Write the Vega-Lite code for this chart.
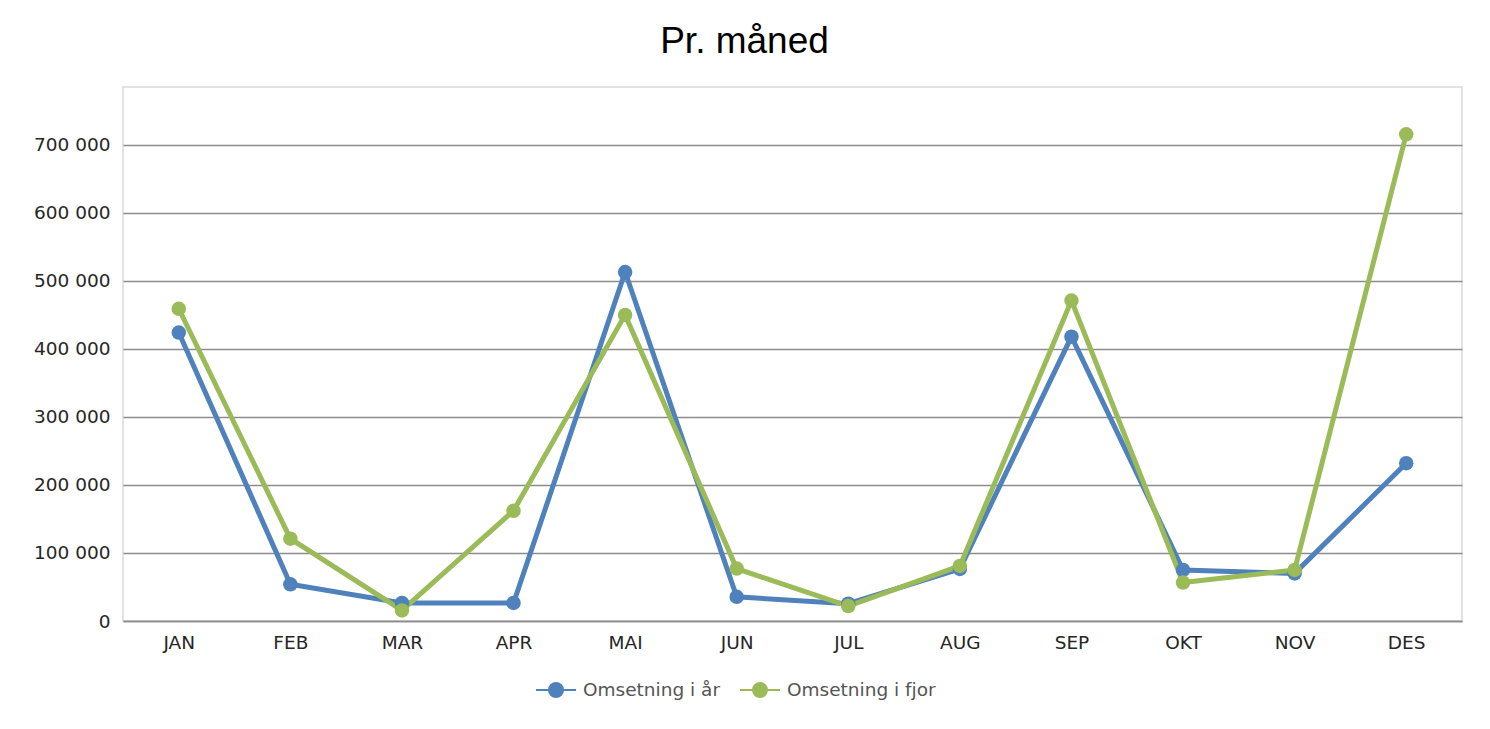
{
  "$schema": "https://vega.github.io/schema/vega-lite/v6.json",
  "width": 1339,
  "height": 534,
  "autosize": {"type": "none"},
  "padding": {"left": 123, "top": 87, "right": 28, "bottom": 108},
  "background": "white",
  "title": {
    "text": "Pr. måned",
    "font": "Liberation Sans",
    "fontSize": 37,
    "fontWeight": "normal",
    "color": "#000000",
    "anchor": "middle",
    "dx": -48,
    "offset": 26
  },
  "config": {
    "view": {"stroke": "#d9d9d9", "strokeWidth": 1.5},
    "axis": {
      "labelFont": "DejaVu Sans",
      "labelFontSize": 18.5,
      "labelColor": "#262626",
      "ticks": false,
      "title": null
    },
    "legend": {
      "labelFont": "DejaVu Sans",
      "labelFontSize": 18.5,
      "labelColor": "#555555"
    }
  },
  "data": {
    "values": [
      {"month": "JAN", "series": "Omsetning i år", "value": 424000},
      {"month": "FEB", "series": "Omsetning i år", "value": 54000},
      {"month": "MAR", "series": "Omsetning i år", "value": 26500},
      {"month": "APR", "series": "Omsetning i år", "value": 26500},
      {"month": "MAI", "series": "Omsetning i år", "value": 513000},
      {"month": "JUN", "series": "Omsetning i år", "value": 35500},
      {"month": "JUL", "series": "Omsetning i år", "value": 25500},
      {"month": "AUG", "series": "Omsetning i år", "value": 76500},
      {"month": "SEP", "series": "Omsetning i år", "value": 418000},
      {"month": "OKT", "series": "Omsetning i år", "value": 75000},
      {"month": "NOV", "series": "Omsetning i år", "value": 70000},
      {"month": "DES", "series": "Omsetning i år", "value": 232000},
      {"month": "JAN", "series": "Omsetning i fjor", "value": 459000},
      {"month": "FEB", "series": "Omsetning i fjor", "value": 121000},
      {"month": "MAR", "series": "Omsetning i fjor", "value": 15500},
      {"month": "APR", "series": "Omsetning i fjor", "value": 162000},
      {"month": "MAI", "series": "Omsetning i fjor", "value": 450000},
      {"month": "JUN", "series": "Omsetning i fjor", "value": 77000},
      {"month": "JUL", "series": "Omsetning i fjor", "value": 22000},
      {"month": "AUG", "series": "Omsetning i fjor", "value": 81000},
      {"month": "SEP", "series": "Omsetning i fjor", "value": 471000},
      {"month": "OKT", "series": "Omsetning i fjor", "value": 56500},
      {"month": "NOV", "series": "Omsetning i fjor", "value": 75000},
      {"month": "DES", "series": "Omsetning i fjor", "value": 715500}
    ]
  },
  "mark": {
    "type": "line",
    "strokeWidth": 5,
    "point": {"filled": true, "size": 210, "opacity": 1}
  },
  "encoding": {
    "x": {
      "field": "month",
      "type": "ordinal",
      "sort": null,
      "scale": {"type": "point", "padding": 0.5},
      "axis": {
        "labelAngle": 0,
        "labelPadding": 12,
        "grid": false,
        "domain": true,
        "domainColor": "#8c8c8c",
        "domainWidth": 1.5
      }
    },
    "y": {
      "field": "value",
      "type": "quantitative",
      "scale": {"domain": [0, 785000], "nice": false},
      "axis": {
        "values": [0, 100000, 200000, 300000, 400000, 500000, 600000, 700000],
        "labelExpr": "replace(format(datum.value, ','), /,/g, ' ')",
        "labelPadding": 13,
        "domain": false,
        "grid": true,
        "gridColor": "#8c8c8c",
        "gridWidth": 1.5
      }
    },
    "color": {
      "field": "series",
      "type": "nominal",
      "sort": ["Omsetning i år", "Omsetning i fjor"],
      "scale": {"domain": ["Omsetning i år", "Omsetning i fjor"], "range": ["#4f81bd", "#9bbb59"]},
      "legend": {
        "title": null,
        "orient": "none",
        "direction": "horizontal",
        "legendX": 412,
        "legendY": 582,
        "symbolType": "M-1,0H1M-0.35,0A0.35,0.35,0,1,1,0.35,0A0.35,0.35,0,1,1,-0.35,0Z",
        "symbolSize": 1600,
        "symbolStrokeWidth": 2,
        "labelOffset": 6,
        "columnPadding": 15,
        "encode": {
          "symbols": {
            "update": {
              "fill": {"scale": "color", "field": "value"},
              "stroke": {"scale": "color", "field": "value"},
              "opacity": {"value": 1}
            }
          }
        }
      }
    }
  }
}
